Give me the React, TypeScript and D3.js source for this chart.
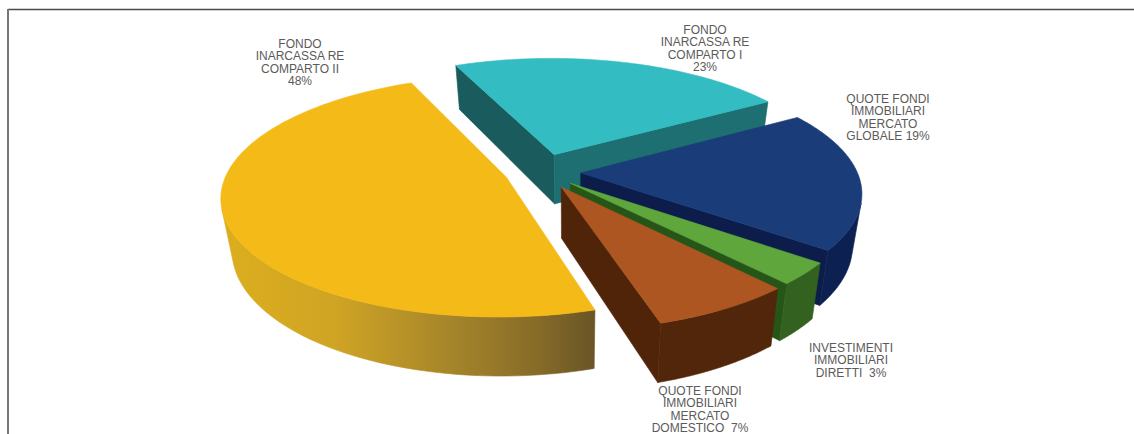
import React from "react";
import * as d3 from "d3";

// Portfolio split, clockwise from the back of the pie.
const sliceNames = ["comparto1", "globale", "diretti", "domestico", "comparto2"];
const shares = [23, 19, 3, 7, 48];
const explodes = [0.1603, 0.1431, 0.1409, 0.1454, 0.1317];
const topColors = ["#33bcc1", "#1a3d7a", "#5fa63d", "#ae5622", "#f4ba18"];
const startFaceColors = ["#1a5b5d", "#0c1d4b", "#2a5a1c", "#4f2409", "#6e5a26"];
const endFaceColors = ["#1d6f72", "#0c1d4b", "#265518", "#4f2409", "#6e5a26"];
const rimColors = ["#1d6f72", "#0c2152", "#33611f", "#52260a", "url(#yellowRim)"];

const labelLines = [
  ["FONDO", "INARCASSA RE", "COMPARTO I", "23%"],
  ["QUOTE FONDI", "IMMOBILIARI", "MERCATO", "GLOBALE 19%"],
  ["INVESTIMENTI", "IMMOBILIARI", "DIRETTI  3%"],
  ["QUOTE FONDI", "IMMOBILIARI", "MERCATO", "DOMESTICO  7%"],
  ["FONDO", "INARCASSA RE", "COMPARTO II", "48%"],
];
const labelX = [705, 888, 851, 700, 300];
const labelY = [30, 99, 348, 391, 44];
const labelStep = 12.3;

const WIDTH = 1134;
const HEIGHT = 434;

// Homography from the unit-disc plane of the pie onto the screen.
const project = (u: number, v: number): [number, number] => {
  const w = 1 + 0.004 * u - 0.155 * v;
  return [541.04 + (277.83 * u - 0.0034 * v) / w, 171.99 + (0.0302 * u + 116.14 * v) / w];
};

// Lower edge of the extrusion for a point on the top face.
const drop = ([x, y]: [number, number]): [number, number] => [570 + (x - 570) * 0.968, y * 1.06 + 40];

const line = d3.line<[number, number]>().x((d) => d[0]).y((d) => d[1]);
const closed = (pts: [number, number][]) => (line(pts) as string) + "Z";

const pie = d3
  .pie<number>()
  .sort(null)
  .startAngle(-0.4173)
  .endAngle(-0.4173 + 2 * Math.PI);

export default function App() {
  const arcs = pie(shares);
  // Back slices are painted first so the nearer ones overlap them.
  const order = [0, 4, 1, 2, 3];

  const solids = order.map((i) => {
    const { startAngle, endAngle } = arcs[i];
    const mid = (startAngle + endAngle) / 2;
    const ox = explodes[i] * Math.sin(mid);
    const oy = -explodes[i] * Math.cos(mid);
    const apex = project(ox, oy);
    const angle = d3.scaleLinear().domain([0, 96]).range([startAngle, endAngle]);
    const rim = d3.range(97).map((k) => {
      const a = angle(k);
      return project(ox + Math.sin(a), oy - Math.cos(a));
    });
    const top = [apex, ...rim];

    const startFace: [number, number][] = [apex, rim[0], drop(rim[0]), drop(apex)];
    const endFace: [number, number][] = [rim[96], apex, drop(apex), drop(rim[96])];

    // Keep only the rim segments turned toward the viewer.
    const visible = d3
      .range(96)
      .filter((k) => d3.polygonArea([rim[k], rim[k + 1], drop(rim[k + 1]), drop(rim[k])]) > 0);
    let rimFace: [number, number][] | null = null;
    if (visible.length) {
      const first = visible[0];
      const last = visible[visible.length - 1] + 1;
      const edge = rim.slice(first, last + 1);
      rimFace = [...edge, ...edge.map(drop).reverse()];
    }
    return { i, top, startFace, endFace, rimFace };
  });

  return (
    <svg
      width={WIDTH}
      height={HEIGHT}
      style={{ position: "fixed", left: 0, top: 0, background: "#ffffff" }}
    >
      <defs>
        <linearGradient id="yellowRim" gradientUnits="userSpaceOnUse" x1={222} x2={594} y1={0} y2={0}>
          <stop offset="0" stopColor="#dcae1e" />
          <stop offset="0.3" stopColor="#d0a424" />
          <stop offset="0.62" stopColor="#a5852a" />
          <stop offset="0.85" stopColor="#866b28" />
          <stop offset="1" stopColor="#695626" />
        </linearGradient>
        <clipPath id="labelClip">
          <rect x={0} y={0} width={930} height={HEIGHT} />
        </clipPath>
      </defs>

      <line x1={8} y1={9.5} x2={WIDTH} y2={9.5} stroke="#4a4a4a" strokeWidth={1.4} />
      <line x1={8} y1={9} x2={8} y2={HEIGHT} stroke="#777777" strokeWidth={2} />

      {solids.map(({ i, top, startFace, endFace, rimFace }) => (
        <g key={sliceNames[i]} strokeWidth={0.6} strokeLinejoin="round">
          {d3.polygonArea(startFace) > 0 && (
            <path d={closed(startFace)} fill={startFaceColors[i]} stroke={startFaceColors[i]} />
          )}
          {d3.polygonArea(endFace) > 0 && (
            <path d={closed(endFace)} fill={endFaceColors[i]} stroke={endFaceColors[i]} />
          )}
          {rimFace && <path d={closed(rimFace)} fill={rimColors[i]} stroke={rimColors[i]} />}
          <path d={closed(top)} fill={topColors[i]} stroke={topColors[i]} />
        </g>
      ))}

      <g
        clipPath="url(#labelClip)"
        fontFamily="'Liberation Sans', Arial, sans-serif"
        fontSize={12}
        fill="#5c5a5a"
        textAnchor="middle"
        dominantBaseline="central"
      >
        {labelLines.map((lines, i) => (
          <text key={sliceNames[i]}>
            {lines.map((t, j) => (
              <tspan key={j} x={labelX[i]} y={labelY[i] + j * labelStep} xmlSpace="preserve">
                {t}
              </tspan>
            ))}
          </text>
        ))}
      </g>
    </svg>
  );
}
